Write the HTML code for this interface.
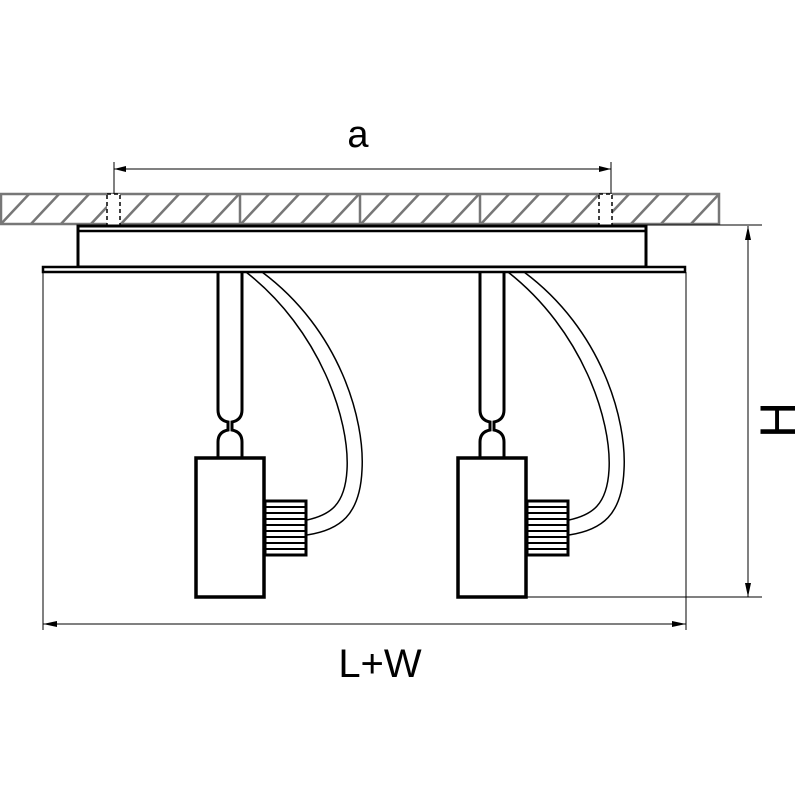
<!DOCTYPE html>
<html><head><style>body{margin:0;background:#fff}svg{display:block}</style></head><body>
<svg width="800" height="800" viewBox="0 0 800 800" xmlns="http://www.w3.org/2000/svg">
<defs>
<pattern id="h" patternUnits="userSpaceOnUse" width="30" height="32" patternTransform="translate(0,193)">
<line x1="0" y1="32" x2="30" y2="0" stroke="#777" stroke-width="2.5"/>
<line x1="-30" y1="32" x2="0" y2="0" stroke="#777" stroke-width="2.5"/>
<line x1="30" y1="32" x2="60" y2="0" stroke="#777" stroke-width="2.5"/>
</pattern>
<g id="lamp" fill="none" stroke="#000">
<path d="M218,272 V410 Q218,420 228,422 V430 Q218,432 218,442 V458 M242,272 V410 Q242,420 232,422 V430 Q242,432 242,442 V458" stroke-width="3"/>
<rect x="196" y="458" width="68" height="139" stroke-width="3.5" fill="#fff"/>
<rect x="265" y="501" width="41" height="54" stroke-width="3" fill="#fff"/>
<path d="M265,507H306M265,513H306M265,519H306M265,525H306M265,531H306M265,537H306M265,543H306M265,549H306" stroke-width="2"/>
<path d="M246,272 C320,330 350,420 347,470 C345,505 330,515 307,520" stroke-width="1.5"/>
<path d="M262,272 C340,330 365,420 362,470 C360,515 340,530 307,535" stroke-width="1.5"/>
</g>
</defs>
<rect x="1" y="194" width="718" height="30" fill="url(#h)" stroke="#777" stroke-width="2.5"/>
<path d="M240,194V224M360,194V224M480,194V224" stroke="#777" stroke-width="2.5"/>
<rect x="107" y="194" width="13" height="35" fill="#fff" stroke="#000" stroke-width="1.5" stroke-dasharray="4,3"/>
<rect x="599" y="194" width="13" height="35" fill="#fff" stroke="#000" stroke-width="1.5" stroke-dasharray="4,3"/>
<rect x="78" y="226" width="568" height="41" fill="#fff" stroke="#000" stroke-width="3"/>
<line x1="78" y1="231" x2="646" y2="231" stroke="#000" stroke-width="2.5"/>
<rect x="43" y="267" width="642" height="5" fill="#fff" stroke="#000" stroke-width="2.5"/>
<path d="M114,162V194M611,162V194M114,169H611" stroke="#000" stroke-width="1"/>
<path d="M114,169l12,-3v6zM611,169l-12,-3v6z" fill="#000"/>
<path d="M43,272V630M686,272V630M43,624H686" stroke="#000" stroke-width="1"/>
<path d="M43,624l14,-3v6zM686,624l-14,-3v6z" fill="#000"/>
<path d="M647,225H762M526,597H762M748,226V597" stroke="#000" stroke-width="1"/>
<path d="M748,226l-3,14h6zM748,597l-3,-14h6z" fill="#000"/>
<use href="#lamp"/>
<use href="#lamp" x="262"/>
<text x="358" y="147" font-family="Liberation Sans, sans-serif" font-size="38" text-anchor="middle">a</text>
<text x="380" y="677" font-family="Liberation Sans, sans-serif" font-size="40" text-anchor="middle">L+W</text>
<text transform="translate(795,420) rotate(-90)" font-family="Liberation Sans, sans-serif" font-size="50" text-anchor="middle">H</text>
</svg>
</body></html>
